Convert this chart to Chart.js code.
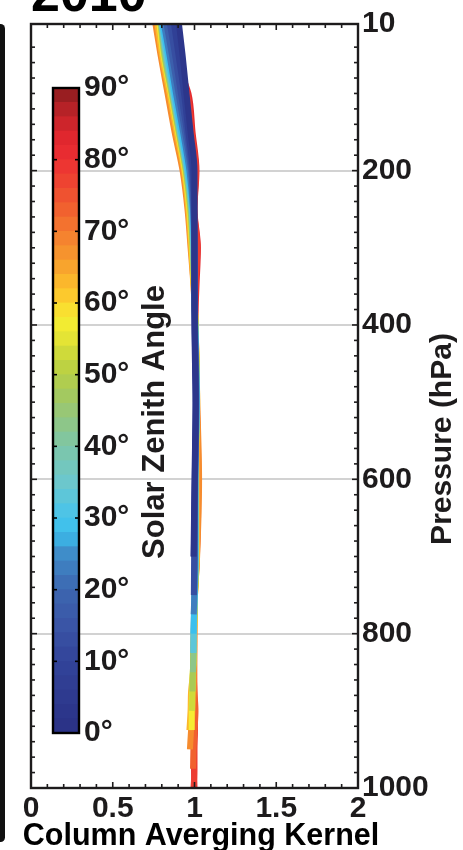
<!DOCTYPE html>
<html lang="en">
<head>
<meta charset="UTF-8" />
<title>Column averaging kernel 2010</title>
<style>
  html, body { margin: 0; padding: 0; background: #fff; overflow: hidden; }
  .page { position: relative; width: 463px; height: 850px; overflow: hidden; background: #fff; }
  #mainChart { position: absolute; left: 0; top: -50px; }
  #barChart { position: absolute; left: 0; top: 0; pointer-events: none; }
  .edge { position: absolute; left: -4px; top: 24px; width: 9px; height: 818px; background: #111; border-radius: 5px; }
</style>
</head>
<body>
<div class="page">
  <div class="edge"></div>
  <canvas id="mainChart" width="463" height="900"></canvas>
  <canvas id="barChart" width="463" height="850"></canvas>
</div>
<script src="https://cdn.jsdelivr.net/npm/chart.js@4.4.1/dist/chart.umd.min.js"></script>
<script>
// pressure levels (hPa) shared by every kernel profile
const levels = [10, 50, 100, 150, 200, 250, 300, 350, 400, 500, 600, 700, 750, 775, 800, 825, 850, 875, 900, 925, 950, 975, 1000];
// solar zenith angle of each profile (deg)
const sza = [3, 8, 13, 18, 23, 28, 33, 38, 43, 48, 53, 58, 63, 68, 73, 78, 82];
// column averaging kernel, one row per sza, read top -> surface (rows stop at the surface)
const kernels = [
  [0.905, 0.927, 0.951, 0.976, 1.000, 1.000, 1.000, 1.000, 1.000, 1.006, 1.000, 0.994],
  [0.875, 0.902, 0.936, 0.963, 0.991, 0.999, 1.000, 1.000, 1.001, 1.008, 1.002, 0.996],
  [0.850, 0.881, 0.917, 0.954, 0.985, 0.997, 0.999, 1.000, 1.002, 1.009, 1.003, 0.998, 0.996],
  [0.829, 0.862, 0.902, 0.942, 0.979, 0.994, 0.999, 1.000, 1.003, 1.010, 1.004, 1.001, 0.997],
  [0.813, 0.847, 0.887, 0.930, 0.969, 0.991, 0.998, 1.000, 1.003, 1.012, 1.004, 1.003, 0.999, 0.995],
  [0.804, 0.838, 0.878, 0.920, 0.961, 0.988, 0.997, 0.999, 1.004, 1.012, 1.005, 1.005, 1.000, 0.996, 0.994],
  [0.801, 0.830, 0.872, 0.914, 0.957, 0.985, 0.995, 0.999, 1.004, 1.013, 1.005, 1.006, 1.001, 0.997, 0.994, 0.993],
  [0.799, 0.826, 0.869, 0.911, 0.954, 0.982, 0.993, 0.999, 1.004, 1.014, 1.005, 1.007, 1.001, 0.998, 0.995, 0.993],
  [0.797, 0.820, 0.865, 0.908, 0.951, 0.979, 0.991, 0.999, 1.005, 1.014, 1.005, 1.008, 1.002, 0.998, 0.996, 0.994, 0.991],
  [0.795, 0.817, 0.862, 0.905, 0.948, 0.976, 0.990, 0.998, 1.005, 1.015, 1.005, 1.008, 1.002, 0.999, 0.996, 0.994, 0.990, 0.988],
  [0.792, 0.813, 0.859, 0.902, 0.945, 0.972, 0.987, 0.997, 1.006, 1.015, 1.005, 1.009, 1.003, 0.999, 0.997, 0.995, 0.990, 0.987, 0.985],
  [0.786, 0.810, 0.856, 0.899, 0.942, 0.969, 0.985, 0.997, 1.006, 1.016, 1.005, 1.010, 1.003, 0.999, 0.997, 0.995, 0.990, 0.986, 0.983, 0.983],
  [0.774, 0.801, 0.847, 0.890, 0.936, 0.963, 0.980, 0.995, 1.006, 1.016, 1.012, 1.014, 1.003, 1.000, 0.998, 0.997, 0.991, 0.979, 0.976, 0.969],
  [0.761, 0.792, 0.835, 0.878, 0.927, 0.957, 0.976, 0.994, 1.006, 1.017, 1.028, 1.016, 1.003, 1.000, 1.000, 0.999, 0.997, 0.994, 0.988, 0.979, 0.972],
  [0.838, 0.862, 0.899, 0.942, 0.979, 0.991, 0.997, 1.000, 1.006, 1.015, 1.024, 1.015, 1.002, 0.999, 0.998, 0.998, 0.999, 1.000, 1.006, 1.000, 0.994, 0.991],
  [0.844, 0.869, 0.954, 0.982, 1.009, 0.999, 1.018, 1.006, 1.005, 1.014, 1.021, 1.014, 1.001, 0.998, 0.997, 0.996, 0.996, 0.999, 1.002, 1.003, 1.000, 1.000, 0.994],
  [0.850, 0.875, 0.963, 0.988, 1.012, 1.000, 1.021, 1.012, 1.004, 1.012, 1.018, 1.012, 1.000, 0.997, 0.996, 0.994, 0.993, 0.996, 0.998, 0.997, 0.996, 0.997, 1.000]
];
const pressureLabels = [10, 200, 400, 600, 800, 1000];
const kernelLabels = [0, 0.5, 1, 1.5, 2];
const szaLabels = [0, 10, 20, 30, 40, 50, 60, 70, 80, 90];

// colour map of the colour bar
const jetStops = [
  [0, '#2a3185'], [5, '#2e3a8f'], [10, '#32449a'], [15, '#3a55a6'], [20, '#3d66b0'],
  [25, '#3f8dc9'], [28, '#3bbfed'], [31, '#4ec4e6'], [35, '#6cc7cc'], [40, '#7dc6a8'],
  [44, '#92c67f'], [48, '#a9ca55'], [52, '#c4d53c'], [56, '#eee933'], [58, '#f6ec31'],
  [60, '#fcd22e'], [63, '#fbb72c'], [66, '#f79b2d'], [70, '#f47b2f'], [73, '#f1612f'],
  [76, '#ee4a31'], [80, '#ec2f32'], [83, '#e0272e'], [86, '#c4242a'], [90, '#8b1c1e']
];
function hexRgb(h) { return [1, 3, 5].map(i => parseInt(h.substr(i, 2), 16)); }
function jet(v) {
  for (let i = 1; i < jetStops.length; i++) {
    const [a, ca] = jetStops[i - 1], [b, cb] = jetStops[i];
    if (v <= b) {
      const t = (v - a) / (b - a), p = hexRgb(ca), q = hexRgb(cb);
      return 'rgb(' + p.map((c, k) => Math.round(c + (q[k] - c) * t)).join(',') + ')';
    }
  }
  return jetStops[jetStops.length - 1][1];
}

const ink = '#1d1b1c';
const family = "'Liberation Sans', Arial, Helvetica, sans-serif";
const bold30 = { family: family, size: 30, weight: 'bold', lineHeight: 1.2 };
Chart.defaults.font.family = family;

// minor tick positions
const xTickValues = [];
for (let i = 0; i <= 20; i++) xTickValues.push(i / 10);
const yTickValues = [10];
for (let p = 40; p < 1000; p += 20) yTickValues.push(p);
yTickValues.push(1000);

function line(ctx, x1, y1, x2, y2) {
  ctx.beginPath(); ctx.moveTo(x1, y1); ctx.lineTo(x2, y2); ctx.stroke();
}
function rotText(ctx, text, x, y, size) {
  ctx.save();
  ctx.fillStyle = ink;
  ctx.font = 'bold ' + size + 'px ' + family;
  ctx.textAlign = 'center';
  ctx.textBaseline = 'middle';
  ctx.translate(x, y);
  ctx.rotate(-Math.PI / 2);
  ctx.fillText(text, 0, 0);
  ctx.restore();
}

// frame + inward ticks like the original figure
const frameTicks = {
  id: 'frameTicks',
  afterDatasetsDraw(chart) {
    const { ctx, chartArea: a, scales: { x, y } } = chart;
    ctx.save();
    ctx.strokeStyle = ink;
    ctx.lineWidth = 1.6;
    x.ticks.forEach(t => {
      const px = x.getPixelForValue(t.value);
      const len = kernelLabels.includes(t.value) ? 6 : 4;
      line(ctx, px, a.bottom, px, a.bottom - len);
      line(ctx, px, a.top, px, a.top + len);
    });
    y.ticks.forEach(t => {
      const py = y.getPixelForValue(t.value);
      const len = pressureLabels.includes(t.value) ? 6 : 4;
      line(ctx, a.left, py, a.left + len, py);
      line(ctx, a.right, py, a.right - len, py);
    });
    ctx.lineWidth = 2.4;
    ctx.strokeRect(a.left, a.top, a.right - a.left, a.bottom - a.top);
    ctx.restore();
  },
  afterDraw(chart) {
    const ctx = chart.ctx;
    rotText(ctx, 'Pressure (hPa)', 443, 489, 30);
    ctx.save();
    ctx.fillStyle = '#000';
    ctx.font = 'bold 30.5px ' + family;
    ctx.textAlign = 'center';
    ctx.textBaseline = 'middle';
    ctx.fillText('Column Averging Kernel', 201, 887);
    ctx.restore();
  }
};

new Chart(document.getElementById('mainChart'), {
  type: 'line',
  data: {
    datasets: sza.map((s, i) => ({
      label: s + '°',
      data: kernels[i].map((k, j) => ({ x: k, y: levels[j] })),
      borderColor: jet(s),
      borderWidth: 6,
      pointRadius: 0,
      fill: false,
      cubicInterpolationMode: 'monotone',
      borderCapStyle: 'butt',
      borderJoinStyle: 'round'
    }))
  },
  options: {
    responsive: false,
    animation: false,
    indexAxis: 'y',
    layout: { padding: { left: 31, top: 0, right: 0, bottom: 0 } },
    plugins: {
      legend: { display: false },
      tooltip: { enabled: false },
      title: {
        display: true, text: '2010', align: 'start', color: '#000',
        font: { family: family, size: 52, weight: 'bold', lineHeight: 1 },
        padding: { top: 21, bottom: 1 }
      }
    },
    scales: {
      x: {
        type: 'linear', position: 'bottom', min: 0, max: 2,
        afterBuildTicks: s => { s.ticks = xTickValues.map(v => ({ value: v })); },
        afterFit: s => { s.height = 62; },
        grid: { display: false, drawTicks: false },
        border: { display: false },
        ticks: {
          autoSkip: false, maxRotation: 0, padding: 3, color: ink, font: bold30,
          callback: v => kernelLabels.includes(v) ? String(v) : ''
        }
      },
      y: {
        type: 'linear', position: 'right', reverse: true, min: 10, max: 1000,
        afterBuildTicks: s => { s.ticks = yTickValues.map(v => ({ value: v })); },
        afterFit: s => { s.width = 105; },
        grid: {
          drawTicks: false, lineWidth: 2,
          color: c => (c.tick && pressureLabels.slice(1, -1).includes(c.tick.value)) ? '#d2d2d2' : 'rgba(0,0,0,0)'
        },
        border: { display: false },
        ticks: {
          autoSkip: false, padding: 4, color: ink, font: bold30,
          callback: v => pressureLabels.includes(v) ? String(v) : ''
        }
      }
    }
  },
  plugins: [frameTicks]
});

// colour bar: 2 degree bands
const bandStarts = [];
for (let d = 0; d < 90; d += 2) bandStarts.push(d);

const barFrame = {
  id: 'barFrame',
  afterDraw(chart) {
    const { ctx, chartArea: a, scales: { y } } = chart;
    ctx.save();
    ctx.strokeStyle = '#000';
    ctx.lineWidth = 1.6;
    szaLabels.slice(1, -1).forEach(v => {
      const py = y.getPixelForValue(v);
      line(ctx, a.left, py, a.left + 4, py);
      line(ctx, a.right, py, a.right - 4, py);
    });
    ctx.lineWidth = 2.4;
    ctx.strokeRect(a.left, a.top, a.right - a.left, a.bottom - a.top);
    ctx.restore();
    rotText(ctx, 'Solar Zenith Angle', 155, 422, 31);
  }
};

new Chart(document.getElementById('barChart'), {
  type: 'bar',
  data: {
    labels: [''],
    datasets: bandStarts.map(lo => ({
      data: [2], backgroundColor: jet(lo + 1), borderWidth: 0,
      barPercentage: 1, categoryPercentage: 1
    }))
  },
  options: {
    responsive: false,
    animation: false,
    layout: { padding: { left: 53, top: 88, right: 324, bottom: 117 } },
    plugins: { legend: { display: false }, tooltip: { enabled: false } },
    scales: {
      x: { stacked: true, display: false },
      y: {
        stacked: true, position: 'right', min: 0, max: 90,
        afterBuildTicks: s => { s.ticks = szaLabels.map(v => ({ value: v })); },
        afterFit: s => { s.width = 60; },
        grid: { display: false, drawTicks: false },
        border: { display: false },
        ticks: { padding: 5, color: ink, font: bold30, callback: v => v + '°' }
      }
    }
  },
  plugins: [barFrame]
});
</script>
</body>
</html>
